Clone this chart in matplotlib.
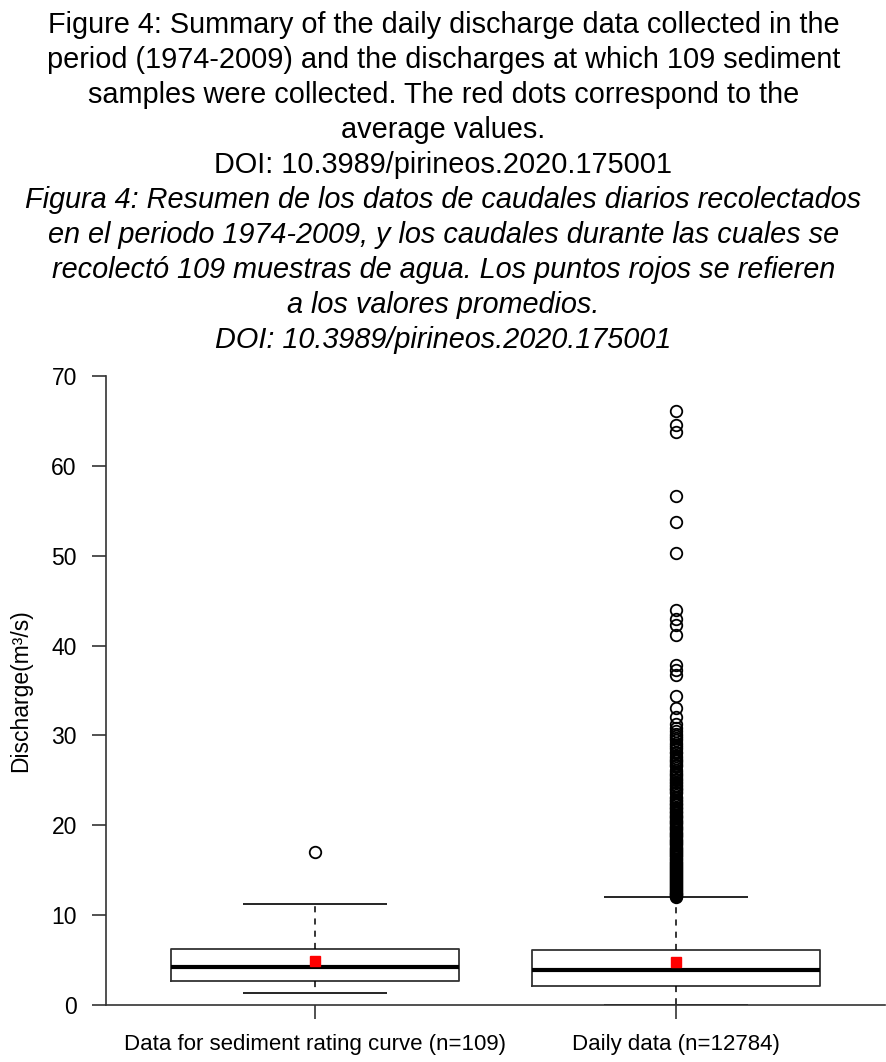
import matplotlib
matplotlib.use("Agg")
import matplotlib.pyplot as plt

plt.rcParams['font.family'] = ['Liberation Sans', 'DejaVu Sans']

# title lines (English then Spanish in italics)
title_en = [
    "Figure 4: Summary of the daily discharge data collected in the",
    "period (1974-2009) and the discharges at which 109 sediment",
    "samples were collected. The red dots correspond to the",
    "average values.",
    "DOI: 10.3989/pirineos.2020.175001",
]
title_es = [
    "Figura 4: Resumen de los datos de caudales diarios recolectados",
    "en el periodo 1974-2009, y los caudales durante las cuales se",
    "recolectó 109 muestras de agua. Los puntos rojos se refieren",
    "a los valores promedios.",
    "DOI: 10.3989/pirineos.2020.175001",
]

# box statistics
groups = ["Data for sediment rating curve (n=109)", "Daily data (n=12784)"]
q1 = [2.67, 2.15]
median = [4.19, 3.90]
q3 = [6.23, 6.12]
whis_lo = [1.30, 0.05]
whis_hi = [11.2, 12.0]
means = [4.9, 4.82]

fliers_sed = [17.0]
fliers_daily = [
    12.02, 12.1, 12.19, 12.3, 12.4, 12.48, 12.6, 12.71, 12.8, 12.92, 13.0,
    13.12, 13.25, 13.33, 13.45, 13.55, 13.66, 13.78, 13.9, 14.0, 14.1, 14.23,
    14.35, 14.44, 14.56, 14.68, 14.8, 14.9, 15.02, 15.15, 15.26, 15.37, 15.5,
    15.6, 15.72, 15.85, 15.95, 16.08, 16.2, 16.3, 16.43, 16.55, 16.66, 16.8,
    16.9, 17.02, 17.15, 17.27, 17.4, 17.52, 17.63, 17.76, 17.9, 18.0, 18.13,
    18.26, 18.4, 18.52, 18.65, 18.78, 18.9, 19.04, 19.17, 19.3, 19.43, 19.56,
    19.7, 19.83, 19.96, 20.1, 20.24, 20.38, 20.5, 20.64, 20.78, 20.92, 21.06,
    21.2, 21.35, 21.5, 21.64, 21.78, 21.93, 22.08, 22.22, 22.38, 22.53, 22.7,
    22.85, 23.0, 23.15, 23.6, 23.75, 23.9, 24.05, 24.2, 24.36, 24.52, 24.7,
    24.86, 25.03, 25.2, 25.38, 25.56, 25.75, 25.92, 26.1, 26.55, 26.72, 26.9,
    27.1, 27.3, 27.52, 27.75, 28.0, 28.2, 28.45, 28.7, 28.95, 29.2, 29.45,
    29.7, 29.95, 30.2, 30.5, 30.8, 31.3, 32.1, 33.0, 34.4, 36.7, 37.3, 37.8,
    41.2, 42.3, 43.0, 44.0, 50.3, 53.8, 56.6, 63.8, 64.6, 66.1,
]
fliers = [fliers_sed, fliers_daily]

W, H = 887, 1062
fig = plt.figure(figsize=(W / 100, H / 100), dpi=100)

# title block
base_y = 33
step = 35
for i, line in enumerate(title_en + title_es):
    style = 'normal' if i < len(title_en) else 'italic'
    fig.text(0.5, 1 - (base_y + i * step) / H, line, ha='center', va='baseline',
             fontsize=20.8, fontstyle=style, color='black')

ax = fig.add_axes([106 / W, (H - 1005) / H, (885 - 106) / W, (1005 - 376) / H])

stats = []
for i in range(len(groups)):
    stats.append(dict(label=groups[i], q1=q1[i], med=median[i], q3=q3[i],
                      whislo=whis_lo[i], whishi=whis_hi[i], fliers=fliers[i]))

ax.bxp(stats, positions=[1, 2], widths=0.8, showfliers=True,
       boxprops=dict(color='#333333', linewidth=1.3),
       medianprops=dict(color='black', linewidth=3.0),
       whiskerprops=dict(color='black', linewidth=1.1, linestyle=(0, (4, 4))),
       capprops=dict(color='black', linewidth=1.2, solid_capstyle='butt'),
       capwidths=0.4,
       flierprops=dict(marker='o', markersize=8.3, markerfacecolor='none',
                       markeredgecolor='black', markeredgewidth=1.3, linestyle='none'))

ax.plot([1, 2], means, linestyle='none', marker='s', markersize=7.2,
        color='red', zorder=5)

ax.set_xlim(0.42, 2.58)
ax.set_ylim(0, 70)
ax.set_yticks(range(0, 71, 10))
ax.set_xticks([1, 2])
ax.set_xticklabels(groups)
ax.set_ylabel("Discharge(m³/s)", fontsize=16.5, labelpad=14)

for s in ['top', 'right']:
    ax.spines[s].set_visible(False)
for s in ['left', 'bottom']:
    ax.spines[s].set_color('#333333')
    ax.spines[s].set_linewidth(1.2)
ax.tick_params(axis='both', direction='out', length=10, width=1.2,
               color='#333333', pad=11)
ax.tick_params(axis='y', labelsize=16.5)
ax.tick_params(axis='x', labelsize=16)

fig.savefig("out.png", dpi=100)
